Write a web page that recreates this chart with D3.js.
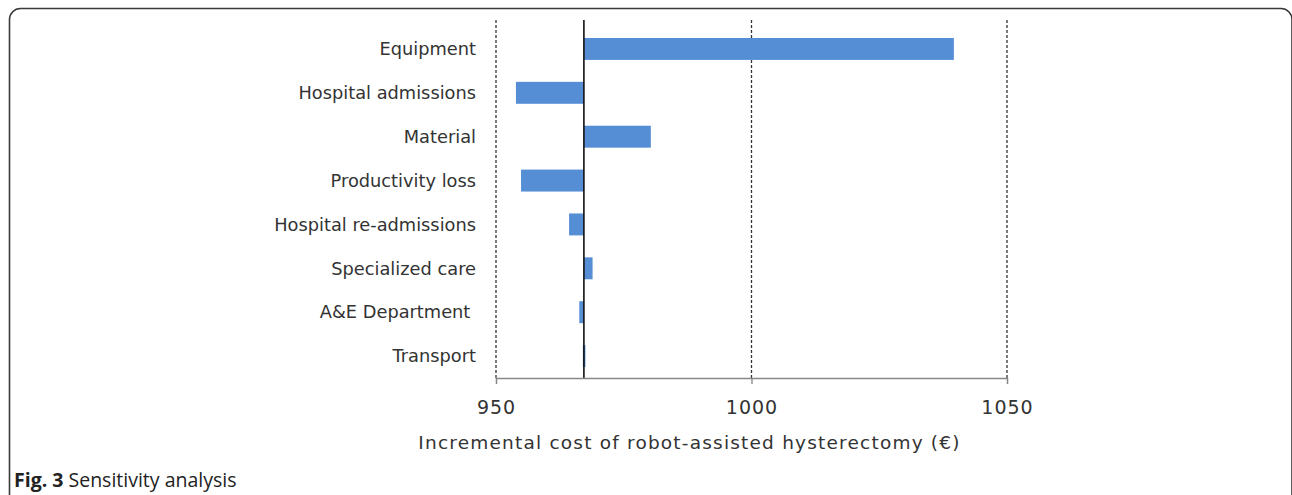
<!DOCTYPE html>
<html><head><meta charset="utf-8">
<script src="https://cdn.jsdelivr.net/npm/d3@7"></script>
<style>body{margin:0;background:#fff;} svg{display:block;}</style>
</head><body>
<svg id="chart" width="1292" height="495"></svg>
<script>
const categories = ["Equipment","Hospital admissions","Material","Productivity loss","Hospital re-admissions","Specialized care","A&E Department ","Transport"];
const lowValues  = [967.2, 953.9, 967.2, 954.9, 964.3, 967.2, 966.3, 967.0];
const highValues = [1039.6, 967.2, 980.3, 967.2, 967.2, 968.9, 967.2, 967.5];
const baseValue = 967.2;
const xTicks = [950, 1000, 1050];
const axisTitle = "Incremental cost of robot-assisted hysterectomy (€)";

const svg = d3.select("#chart");
const font = "'DejaVu Sans', sans-serif";
// frame
svg.append("rect").attr("x",9.5).attr("y",8.5).attr("width",1282.5).attr("height",520)
  .attr("rx",11).attr("fill","none").attr("stroke","#3a3a3a").attr("stroke-width",1.6);

const x = d3.scaleLinear().domain([950,1050]).range([496,1007]);
const y = d3.scaleBand().domain(categories).range([27,378]).paddingInner(0.5).paddingOuter(0.25);

// dashed gridlines
svg.append("g").selectAll("line").data(xTicks).join("line")
  .attr("x1",d=>x(d)).attr("x2",d=>x(d)).attr("y1",20).attr("y2",378)
  .attr("stroke","#333").attr("stroke-width",1.3).attr("stroke-dasharray","3,2");

// bars
svg.append("g").selectAll("rect").data(categories).join("rect")
  .attr("x",(d,i)=>x(lowValues[i]))
  .attr("width",(d,i)=>Math.max(1,x(highValues[i])-x(lowValues[i])))
  .attr("y",d=>y(d)).attr("height",y.bandwidth())
  .attr("fill","#558ed5");

// baseline
svg.append("line").attr("x1",x(baseValue)).attr("x2",x(baseValue)).attr("y1",20).attr("y2",378)
  .attr("stroke","#111").attr("stroke-width",1.6);

// category labels
svg.append("g").selectAll("text").data(categories).join("text")
  .attr("x",476).attr("y",d=>y(d)+y.bandwidth()/2).attr("dy","0.35em")
  .attr("text-anchor","end").style("white-space","pre")
  .attr("font-family",font).attr("font-size",17.8).attr("fill","#333")
  .text(d=>d);

// x axis
const ax = svg.append("g").attr("transform","translate(0,378)")
  .call(d3.axisBottom(x).tickValues(xTicks).tickSize(6).tickPadding(17).tickFormat(d3.format("d")));
ax.select(".domain").attr("stroke","#888").attr("stroke-width",1.3);
ax.selectAll(".tick line").attr("stroke","#888").attr("stroke-width",1.3);
ax.selectAll(".tick text").attr("font-family",font).attr("font-size",19).attr("letter-spacing",1).attr("fill","#333");

svg.append("text").attr("x",x(1000)-62).attr("y",449).attr("text-anchor","middle")
  .attr("font-family",font).attr("font-size",18.5).attr("letter-spacing",1.2).attr("fill","#333").text(axisTitle);

// caption
const cap = svg.append("text").attr("x",14).attr("y",487)
  .attr("font-family","'Open Sans', sans-serif").attr("font-size",19.5).attr("fill","#222");
cap.append("tspan").attr("font-weight","bold").text("Fig. 3");
cap.append("tspan").text(" Sensitivity analysis");
</script>
</body></html>
